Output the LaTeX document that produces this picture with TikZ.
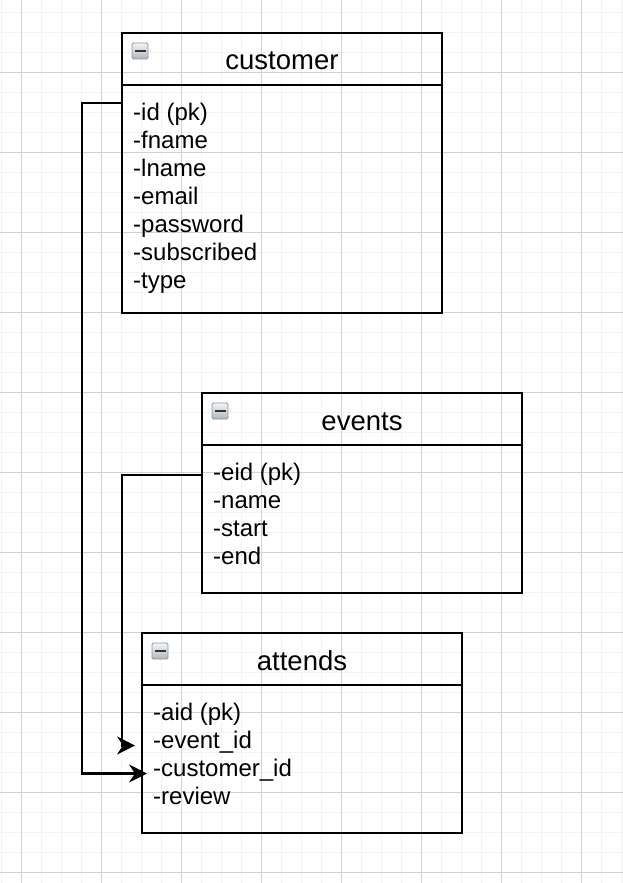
\documentclass[tikz,border=0pt]{standalone}
\usepackage{fontspec}
\setmainfont{Liberation Sans}
\usetikzlibrary{arrows.meta}
\definecolor{gridminor}{HTML}{F3F3F3}
\definecolor{gridmajor}{HTML}{D3D3D3}
\definecolor{icontop}{HTML}{F4F6F8}
\definecolor{iconbot}{HTML}{AEB6BE}
\definecolor{iconframe}{HTML}{8C939A}
\tikzset{
  hdr/.style={draw, line width=2pt, rectangle, anchor=north west, inner sep=0pt, outer sep=0pt,
    minimum width=320pt, minimum height=52pt, text height=22pt, text depth=0pt,
    font=\fontsize{27.5}{30}\selectfont},
  bodybox/.style={draw, line width=2pt, rectangle, anchor=north west, inner sep=0pt, outer sep=0pt,
    minimum width=320pt},
  row/.style={anchor=base west, inner sep=0pt, font=\fontsize{24}{28}\selectfont},
  conn/.style={line width=2.2pt, -{Stealth[length=18pt,width=18pt,inset=6pt]}},
  iconbox/.style={rectangle, rounded corners=1.5pt, draw=iconframe, line width=0.8pt,
    top color=icontop, bottom color=iconbot, minimum size=16pt, inner sep=0pt, outer sep=0pt, anchor=north west}
}
\newcommand{\minusicon}[2]{%
  \node[iconbox] (#2) at (#1) {};
  \fill[black!80] ([xshift=-5.5pt,yshift=-1.3pt]#2.center) rectangle ([xshift=5.5pt,yshift=1.3pt]#2.center);
}
\begin{document}
\begin{tikzpicture}[x=1pt,y=-1pt]
\useasboundingbox (0,0) rectangle (623,883);
\fill[white] (0,0) rectangle (623,883);
% grid
\foreach \gx in {1.7,21.7,...,623} \draw[gridminor, line width=1pt] (\gx,0) -- (\gx,883);
\foreach \gy in {12.3,32.3,...,883} \draw[gridminor, line width=1pt] (0,\gy) -- (623,\gy);
\foreach \gx in {21.7,101.7,...,623} \draw[gridmajor, line width=1pt] (\gx,0) -- (\gx,883);
\foreach \gy in {72.3,152.3,...,883} \draw[gridmajor, line width=1pt] (0,\gy) -- (623,\gy);

% customer
\node[hdr] (chead) at (122,33) {customer};
\node[bodybox, minimum height=228pt] (cbody) at (122,85) {};
\minusicon{132,43}{cicon}
\node[row] (crow1) at (133,120.5) {-id (pk)};
\node[row] (crow2) at (133,148.5) {-fname};
\node[row] (crow3) at (133,176.5) {-lname};
\node[row] (crow4) at (133,204.5) {-email};
\node[row] (crow5) at (133,232.5) {-password};
\node[row] (crow6) at (133,260.5) {-subscribed};
\node[row] (crow7) at (133,288.5) {-type};

% events
\node[hdr] (ehead) at (202,393) {events};
\node[bodybox, minimum height=148pt] (ebody) at (202,445) {};
\minusicon{212,403}{eicon}
\node[row] (erow1) at (213,480.5) {-eid (pk)};
\node[row] (erow2) at (213,508.5) {-name};
\node[row] (erow3) at (213,536.5) {-start};
\node[row] (erow4) at (213,564.5) {-end};

% attends
\node[hdr] (ahead) at (142,633) {attends};
\node[bodybox, minimum height=148pt] (abody) at (142,685) {};
\minusicon{152,643}{aicon}
\node[row] (arow1) at (153,720.5) {-aid (pk)};
\node[row] (arow2) at (153,748.5) {-event\_id};
\node[row] (arow3) at (153,776.5) {-customer\_id};
\node[row] (arow4) at (153,804.5) {-review};

% connectors
\draw[conn] ([yshift=-18pt]cbody.north west) -- ++(-40,0) |- ([xshift=5pt,yshift=-14.5pt]abody.west);
\draw[conn] ([yshift=-30pt]ebody.north west) -- ++(-80,0) |- ([xshift=-7pt,yshift=13.5pt]abody.west);
\end{tikzpicture}
\end{document}
